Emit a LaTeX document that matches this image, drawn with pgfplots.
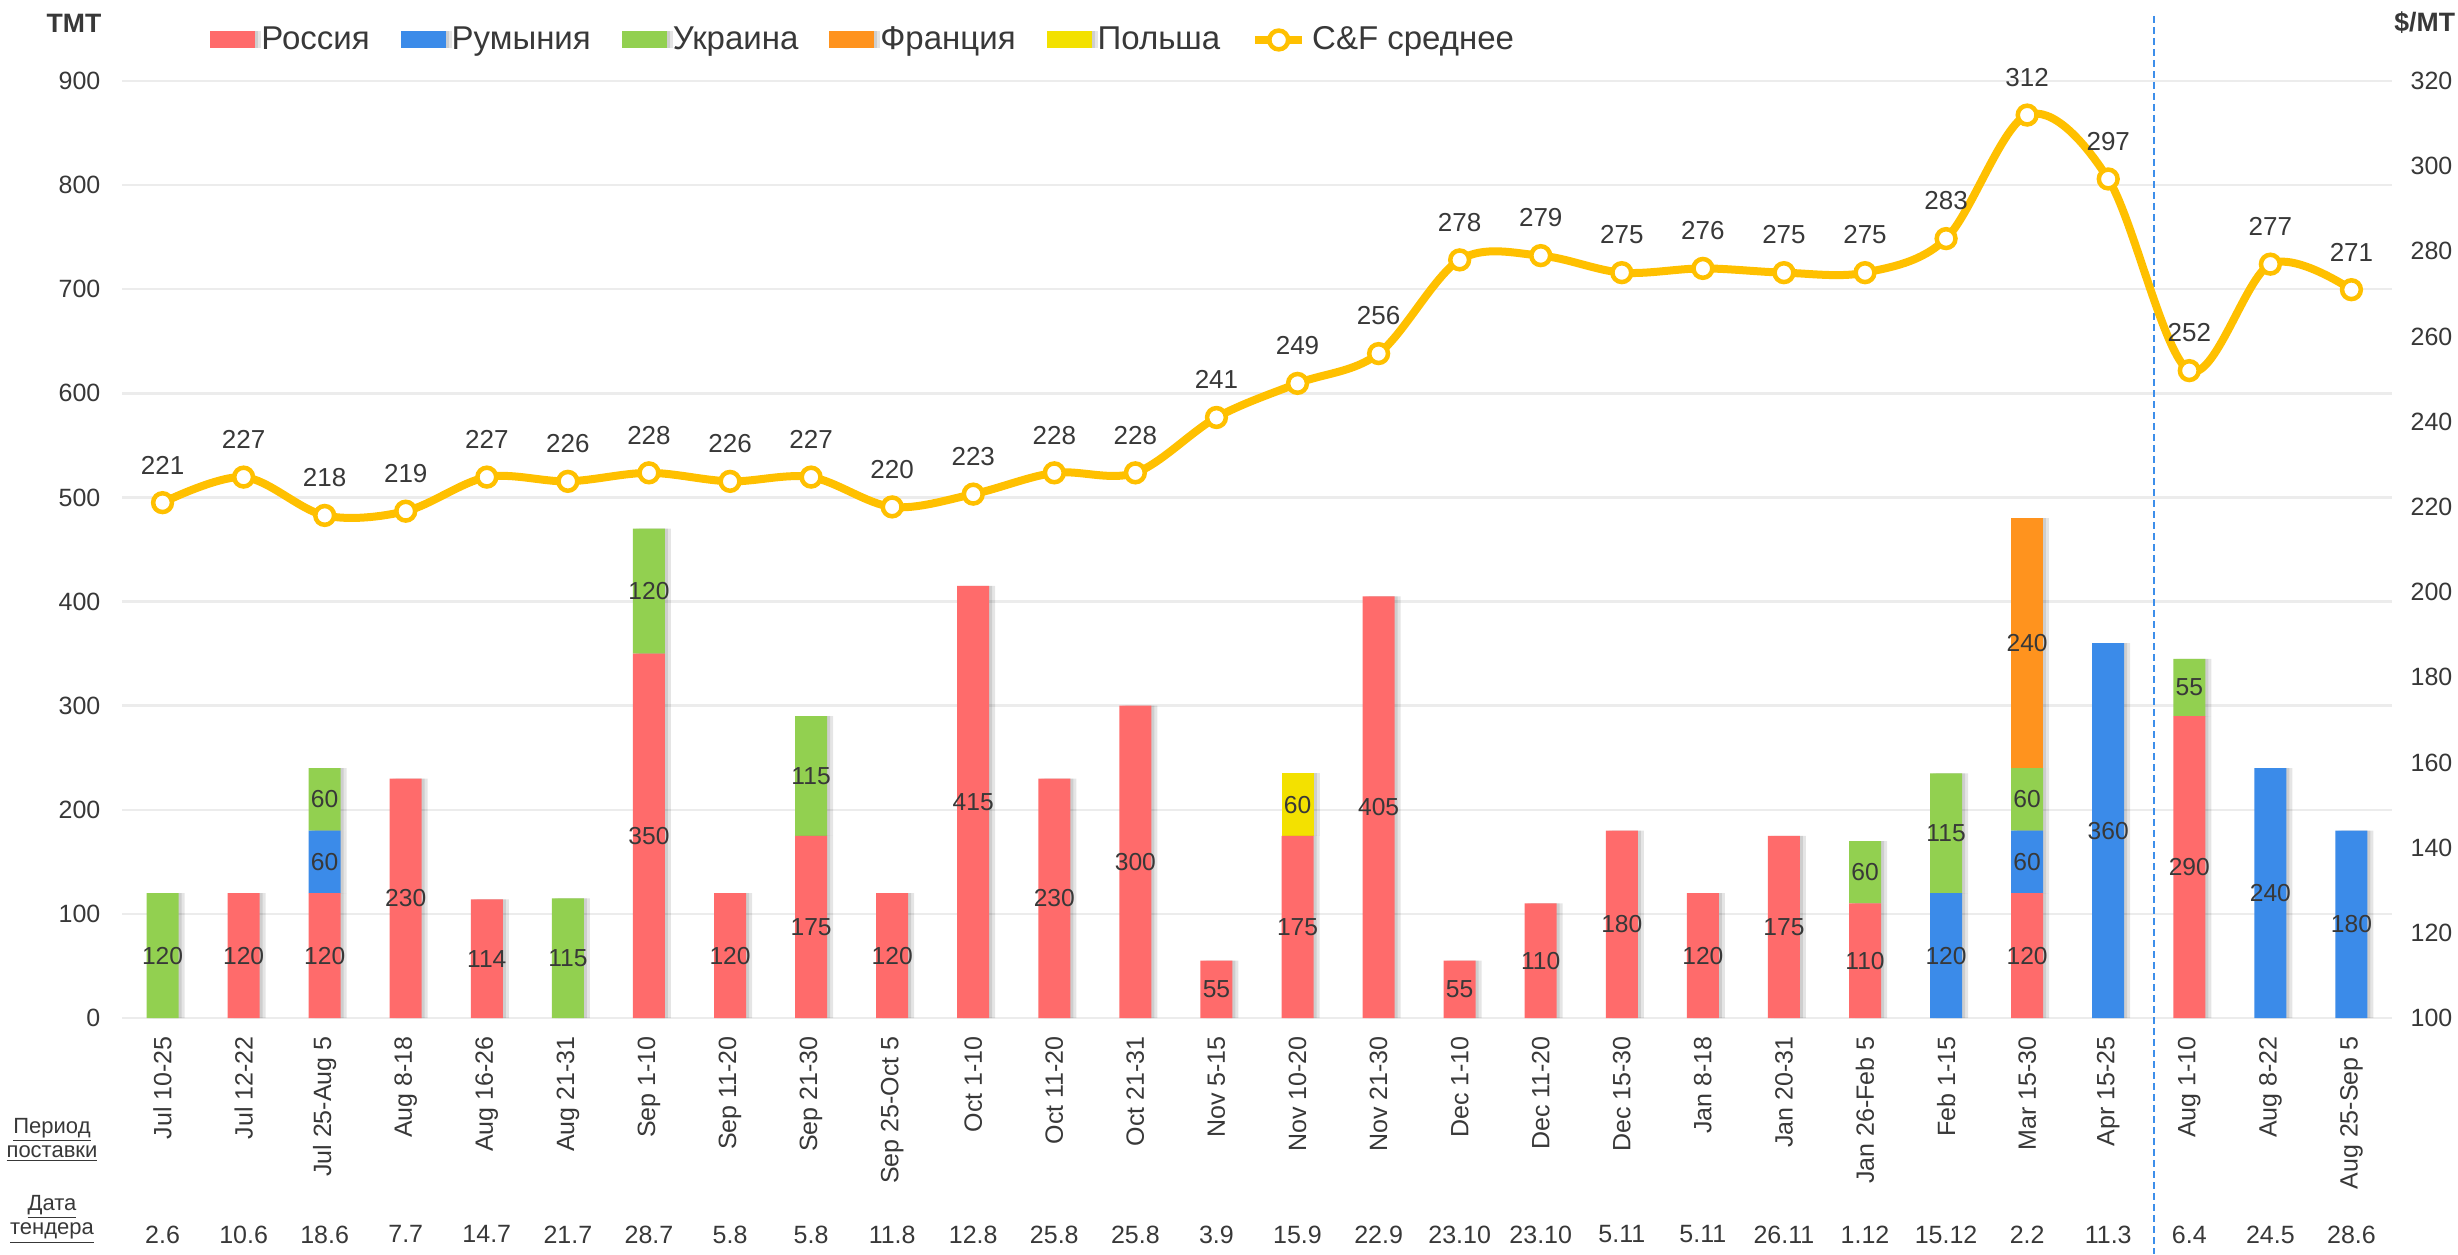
\documentclass[border=0pt]{standalone}
\usepackage{pgfplots}
\pgfplotsset{compat=1.18}
\usepackage{pgfplotstable}
\usepackage{fontspec}
\setmainfont{Liberation Sans}
\definecolor{cRus}{HTML}{FF6B6B}
\definecolor{cRom}{HTML}{3B8BE9}
\definecolor{cUkr}{HTML}{92D050}
\definecolor{cFra}{HTML}{FF931E}
\definecolor{cPol}{HTML}{F3E100}
\definecolor{cLine}{HTML}{FFC000}
\definecolor{cDash}{HTML}{3D8EEA}
\definecolor{cGrid}{HTML}{ECECEC}
\definecolor{cText}{HTML}{383838}

\pgfplotstableread{
x rus rom ukr fra pol cf
0 0 0 120 0 0 221
1 120 0 0 0 0 227
2 120 60 60 0 0 218
3 230 0 0 0 0 219
4 114 0 0 0 0 227
5 0 0 115 0 0 226
6 350 0 120 0 0 228
7 120 0 0 0 0 226
8 175 0 115 0 0 227
9 120 0 0 0 0 220
10 415 0 0 0 0 223
11 230 0 0 0 0 228
12 300 0 0 0 0 228
13 55 0 0 0 0 241
14 175 0 0 0 60 249
15 405 0 0 0 0 256
16 55 0 0 0 0 278
17 110 0 0 0 0 279
18 180 0 0 0 0 275
19 120 0 0 0 0 276
20 175 0 0 0 0 275
21 110 0 60 0 0 275
22 0 120 115 0 0 283
23 120 60 60 240 0 312
24 0 360 0 0 0 297
25 290 0 55 0 0 252
26 0 240 0 0 0 277
27 0 180 0 0 0 271
}\data

\newcommand{\tickfont}{\fontsize{12.5}{15}\selectfont}
\tikzset{barshadow/.style={preaction={fill=black, opacity=0.10, transform canvas={xshift=3pt}},
  preaction={fill=black, opacity=0.10, transform canvas={xshift=1.5pt}}}}

\begin{document}
\begin{tikzpicture}
\path[use as bounding box] (-61pt,-118pt) rectangle (1168pt,509pt);
\begin{axis}[
  at={(0pt,0pt)}, anchor=south west,
  scale only axis, width=1135pt, height=468.5pt,
  xmin=-0.5, xmax=27.5, ymin=0, ymax=900,
  ybar stacked, bar width=16pt,
  axis line style={draw=none},
  major tick length=0pt,
  ymajorgrids, grid style={color=cGrid, line width=1.2pt},
  ytick={0,100,...,900},
  xtick={0,...,27},
  xticklabels={Jul 10-25,Jul 12-22,Jul 25-Aug 5,Aug 8-18,Aug 16-26,Aug 21-31,Sep 1-10,Sep 11-20,Sep 21-30,Sep 25-Oct 5,Oct 1-10,Oct 11-20,Oct 21-31,Nov 5-15,Nov 10-20,Nov 21-30,Dec 1-10,Dec 11-20,Dec 15-30,Jan 8-18,Jan 20-31,Jan 26-Feb 5,Feb 1-15,Mar 15-30,Apr 15-25,Aug 1-10,Aug 8-22,Aug 25-Sep 5},
  xticklabel style={rotate=90, anchor=east, inner xsep=9pt, font=\tickfont, text=cText},
  yticklabel style={font=\tickfont, text=cText, xshift=-7.3pt},
  /pgf/number format/assume math mode=true,
  /pgf/number format/1000 sep={},
  clip=false,
  legend style={at={(axis description cs:0.0388,1.0438)}, anchor=west, draw=none, fill=none,
    inner sep=0pt, font=\fontsize{16.5}{20}\selectfont, text=cText,
    nodes={inner sep=0pt},
    /tikz/every odd column/.append style={column sep=3pt},
    /tikz/every even column/.append style={column sep=15.5pt}},
  legend columns=-1,
  visualization depends on={rawy \as \rawy},
  nodes near coords={\ifdim\rawy pt=0pt\relax\else\pgfmathprintnumber{\rawy}\fi},
  every node near coord/.append style={anchor=center, font=\fontsize{12.3}{14}\selectfont, text=cText},
]
\addplot[fill=cRus, draw=none, barshadow, legend image code/.code={\fill[cRus] (0pt,-4.25pt) rectangle (22.5pt,4.25pt);}] table[x=x,y=rus]{\data};
\addplot[fill=cRom, draw=none, barshadow, legend image code/.code={\fill[cRom] (0pt,-4.25pt) rectangle (22.5pt,4.25pt);}] table[x=x,y=rom]{\data};
\addplot[fill=cUkr, draw=none, barshadow, legend image code/.code={\fill[cUkr] (0pt,-4.25pt) rectangle (22.5pt,4.25pt);}] table[x=x,y=ukr]{\data};
\addplot[fill=cFra, draw=none, barshadow, legend image code/.code={\fill[cFra] (0pt,-4.25pt) rectangle (22.5pt,4.25pt);}] table[x=x,y=fra]{\data};
\addplot[fill=cPol, draw=none, barshadow, legend image code/.code={\fill[cPol] (0pt,-4.25pt) rectangle (22.5pt,4.25pt);}] table[x=x,y=pol]{\data};
\addlegendimage{legend image code/.code={\draw[cLine, line width=4pt] (0pt,0pt) -- (23.5pt,0pt); \draw[cLine, fill=white, line width=2.25pt] (11.75pt,0pt) circle (4.7pt);}}
\legend{Россия,Румыния,Украина,Франция,Польша,C\&F среднее}
\draw[cDash, line width=1pt, dash pattern=on 3.5pt off 2pt] ([yshift=32.5pt]axis cs:24.57,900) -- ([yshift=-118pt]axis cs:24.57,0);
\end{axis}

\begin{axis}[
  at={(0pt,0pt)}, anchor=south west,
  scale only axis, width=1135pt, height=468.5pt,
  xmin=-0.5, xmax=27.5, ymin=100, ymax=320,
  axis y line*=right, axis x line*=bottom,
  axis line style={draw=none},
  major tick length=0pt,
  ytick={100,120,...,320},
  xtick={0,...,27},
  xticklabels={2.6,10.6,18.6,7.7,14.7,21.7,28.7,5.8,5.8,11.8,12.8,25.8,25.8,3.9,15.9,22.9,23.10,23.10,5.11,5.11,26.11,1.12,15.12,2.2,11.3,6.4,24.5,28.6},
  xticklabel style={yshift=-100.3pt, font=\tickfont, text=cText},
  yticklabel style={font=\tickfont, text=cText, xshift=5.8pt},
  /pgf/number format/assume math mode=true,
  clip=false,
]
\addplot[cLine, line width=4pt, smooth, tension=0.55, mark=*, mark size=4.7pt,
  mark options={fill=white, draw=cLine, line width=2.25pt},
  nodes near coords,
  every node near coord/.append style={anchor=south, yshift=9.8pt, font=\fontsize{13}{15}\selectfont, text=cText}] table[x=x,y=cf]{\data};
\end{axis}

\node[font=\bfseries\fontsize{13.3}{16}\selectfont, text=cText] at (-24pt,497.5pt) {ТМТ};
\node[font=\bfseries\fontsize{13.3}{16}\selectfont, text=cText, anchor=west, inner sep=0pt] at (1136pt,497.5pt) {\$/MT};
\node[font=\fontsize{11}{13}\selectfont, text=cText] at (-35pt,-56pt) {\underline{Период}};
\node[font=\fontsize{11}{13}\selectfont, text=cText] at (-35pt,-68pt) {\underline{поставки}};
\node[font=\fontsize{11}{13}\selectfont, text=cText] at (-35pt,-94.5pt) {\underline{Дата}};
\node[font=\fontsize{11}{13}\selectfont, text=cText] at (-35pt,-107.5pt) {\underline{тендера}};
\end{tikzpicture}
\end{document}
